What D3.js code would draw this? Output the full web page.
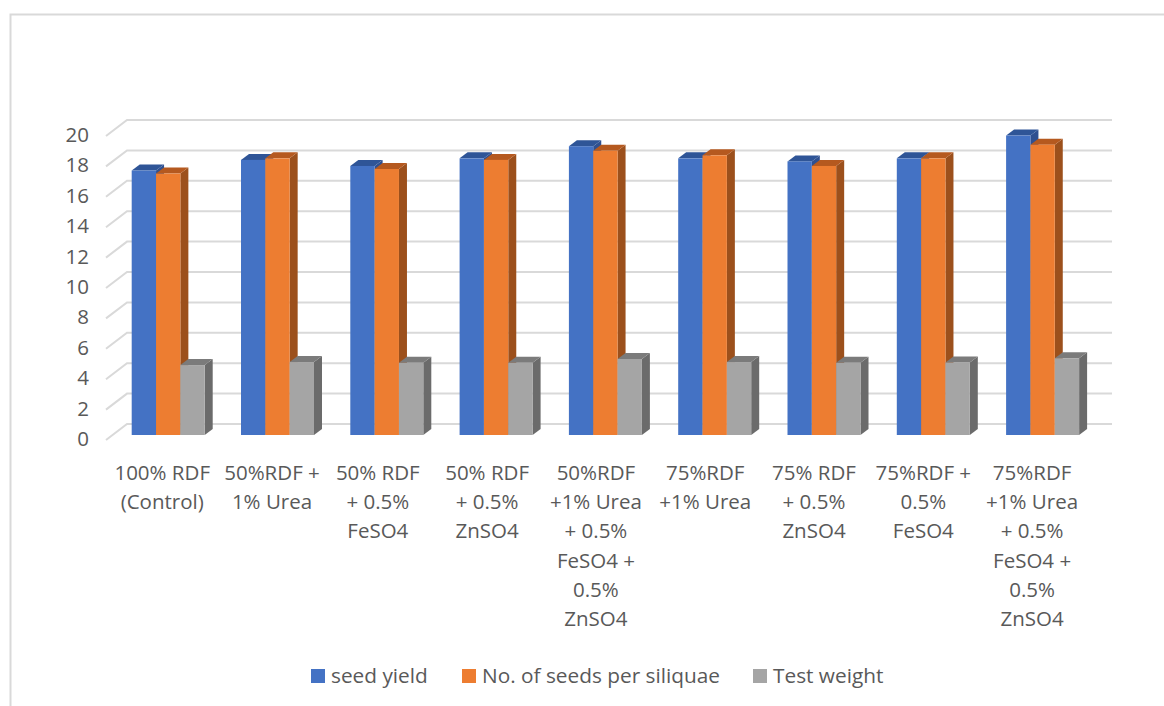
<!DOCTYPE html>
<html lang="en">
<head>
<meta charset="utf-8">
<script src="https://d3js.org/d3.v7.min.js"></script>
<style>
    html, body { margin: 0; padding: 0; background: #fff; }
    svg { display: block; }
    text { font-family: "Open Sans", sans-serif; fill: #595959; }
</style>
</head>
<body>
<div id="container"></div>
<script>
    // Data
    const categories = [
        "100% RDF\n(Control)",
        "50%RDF +\n1% Urea",
        "50% RDF\n+ 0.5%\nFeSO4",
        "50% RDF\n+ 0.5%\nZnSO4",
        "50%RDF\n+1% Urea\n+ 0.5%\nFeSO4 +\n0.5%\nZnSO4",
        "75%RDF\n+1% Urea",
        "75% RDF\n+ 0.5%\nZnSO4",
        "75%RDF +\n0.5%\nFeSO4",
        "75%RDF\n+1% Urea\n+ 0.5%\nFeSO4 +\n0.5%\nZnSO4 "
    ];
    const seriesNames = ["seed yield", "No. of seeds per siliquae", "Test weight"];
    const seedYield = [17.4, 18.1, 17.7, 18.2, 19.0, 18.2, 18.0, 18.2, 19.7];
    const seedsPerSiliquae = [17.2, 18.2, 17.5, 18.1, 18.7, 18.4, 17.7, 18.2, 19.1];
    const testWeight = [4.6, 4.8, 4.75, 4.75, 5.0, 4.8, 4.75, 4.77, 5.05];
    const yTicks = [0, 2, 4, 6, 8, 10, 12, 14, 16, 18, 20];

    const allSeries = [seedYield, seedsPerSiliquae, testWeight];
    const colours = ["#4472c4", "#ed7d31", "#a5a5a5"];
    const topColours = ["#2f5597", "#b5591f", "#7b7b7b"];
    const sideColours = ["#2f5090", "#9c501c", "#6b6b6b"];

    const width = 1164, height = 706;
    const barDepth = {x: 8, y: 6};
    const floorDepth = {x: 21, y: 16};
    // Labels sit left of their bars, the first two a bit less than the rest
    const labelShift = [-6, -5.5, -9, -9, -9.5, -9.5, -10, -10, -10.5];

    const svg = d3.select("#container").append("svg")
        .attr("width", width)
        .attr("height", height);

    // Outer chart border, only top and left are in the crop
    svg.append("path")
        .attr("d", "M10.5,706V14.5H1164")
        .attr("fill", "none")
        .attr("stroke", "#d9d9d9")
        .attr("stroke-width", 2);

    // Scales: y is the front of the bars, gridlines sit further back
    const x = d3.scaleBand()
        .domain(categories)
        .range([113.55, 1097.25]);
    const groupWidth = 73;
    const barX = d3.scaleBand()
        .domain(d3.range(allSeries.length))
        .range([0, groupWidth]);
    const y = d3.scaleLinear().domain([0, 20]).range([435, 131]);
    const yBack = d3.scaleLinear().domain([0, 20]).range([424, 120]);

    // Gridlines with the slanted stub on the left wall
    const grid = svg.append("g").attr("fill", "none").attr("stroke", "#d9d9d9").attr("stroke-width", 2);
    grid.selectAll("path")
        .data(yTicks)
        .join("path")
        .attr("d", d => "M106," + (yBack(d) + floorDepth.y) + "L" + (106 + floorDepth.x) + "," + yBack(d) + "H1112");

    // Y axis labels
    const yAxis = d3.axisLeft(y).tickValues(yTicks).tickSize(0).tickPadding(0);
    const yAxisG = svg.append("g")
        .attr("transform", "translate(89,4)")
        .call(yAxis);
    yAxisG.select(".domain").remove();
    yAxisG.selectAll("text")
        .style("font-family", '"Open Sans", sans-serif')
        .style("font-size", "20.5px")
        .attr("fill", "#595959");

    // Bars, drawn back to front within each group
    const groups = svg.append("g").selectAll("g")
        .data(categories)
        .join("g")
        .attr("transform", d => "translate(" + (x(d) + (x.bandwidth() - groupWidth) / 2) + ",0)");

    groups.each(function(cat, i) {
        const g = d3.select(this);
        allSeries.forEach(function(values, s) {
            const x0 = barX(s), w = barX.bandwidth();
            const top = y(values[i]), base = y(0);
            const dx = barDepth.x, dy = barDepth.y;
            g.append("path")
                .attr("fill", sideColours[s])
                .attr("d", "M" + (x0 + w) + "," + top + "l" + dx + "," + (-dy) + "V" + (base - dy) + "l" + (-dx) + "," + dy + "Z");
            g.append("path")
                .attr("fill", topColours[s])
                .attr("d", "M" + x0 + "," + top + "l" + dx + "," + (-dy) + "h" + w + "l" + (-dx) + "," + dy + "Z");
            g.append("rect")
                .attr("x", x0)
                .attr("y", top)
                .attr("width", w)
                .attr("height", base - top)
                .attr("fill", colours[s]);
        });
    });

    // Category labels, wrapped the way the picture has them
    const labels = svg.append("g").selectAll("text")
        .data(categories)
        .join("text")
        .attr("text-anchor", "middle")
        .attr("font-size", 20.5);
    labels.selectAll("tspan")
        .data(d => d.trim().split("\n"))
        .join("tspan")
        .attr("y", (d, i) => 480 + i * 29.2)
        .text(d => d);
    labels.each(function(d, i) {
        d3.select(this).selectAll("tspan").attr("x", x(d) + x.bandwidth() / 2 + labelShift[i]);
    });

    // Legend
    const legendX = [311, 462, 753];
    const legend = svg.append("g").selectAll("g")
        .data(seriesNames)
        .join("g")
        .attr("transform", (d, i) => "translate(" + legendX[i] + ",669)");
    legend.append("rect")
        .attr("width", 14)
        .attr("height", 14)
        .attr("fill", (d, i) => colours[i]);
    legend.append("text")
        .attr("x", 20)
        .attr("y", 14)
        .attr("font-size", 20.8)
        .text(d => d);
</script>
</body>
</html>
